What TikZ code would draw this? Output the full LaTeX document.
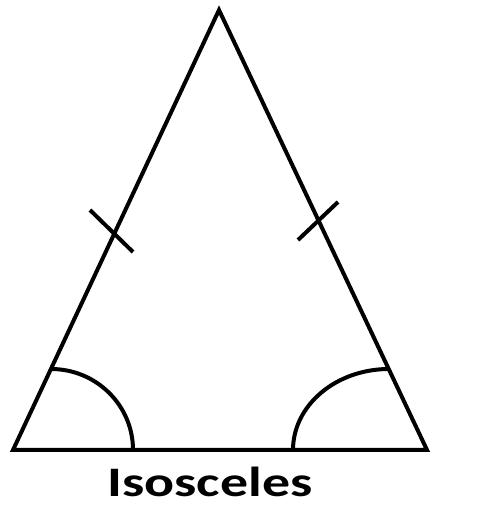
\documentclass[tikz,border=0pt]{standalone}
\usepackage{fontspec}
\setmainfont{Carlito}
\usetikzlibrary{calc}

\begin{document}
\begin{tikzpicture}[x=1pt, y=1pt, line width=4pt, line join=miter]
  \useasboundingbox (0,0) rectangle (483,519);

  % Triangle
  \coordinate (apex) at (219,509);
  \coordinate (bl) at (13,69);
  \coordinate (br) at (427,69);
  \draw (bl) -- (apex) -- (br) -- cycle;

  % Equal sides
  \draw (90,309) -- (133,267);
  \draw (298,279) -- (338,317);

  % Base angles
  \draw (51,150) arc[start angle=90, end angle=0, x radius=82, y radius=81];
  \draw (389,150) arc[start angle=90, end angle=180, x radius=96, y radius=81];

  % Label
  \node[anchor=base, inner sep=0pt, font=\fontsize{42}{48}\selectfont\bfseries] (label) at (210,22) {\scalebox{1.33}[1]{Isosceles}};
\end{tikzpicture}
\end{document}
